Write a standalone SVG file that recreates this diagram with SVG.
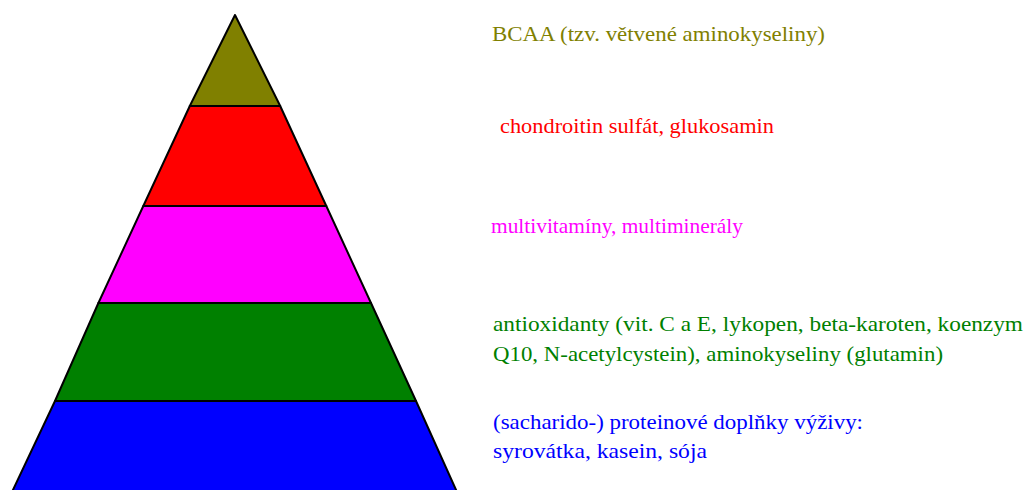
<svg xmlns="http://www.w3.org/2000/svg" width="1027" height="490" viewBox="0 0 1027 490">
<style>
.b{stroke:#000;stroke-width:2;stroke-linejoin:round}
text{font-family:"Liberation Serif","Times New Roman",serif;font-size:21px}
</style>
<rect width="1027" height="490" fill="#fff"/>
<g id="pyramid">
<g id="l5"><polygon class="b" fill="#808000" points="235,15 189.8,106 280.2,106"/></g>
<g id="l4"><polygon class="b" fill="#ff0000" points="189.8,106 280.2,106 326.3,206 143.3,206"/></g>
<g id="l3"><polygon class="b" fill="#ff00ff" points="143.3,206 326.3,206 371,303 98.4,303"/></g>
<g id="l2"><polygon class="b" fill="#008000" points="98.4,303 371,303 416,401 55,401"/></g>
<g id="l1"><polygon class="b" fill="#0000ff" points="55,401 416,401 457,492 12,492"/></g>
</g>
<g id="labels">
<text x="492" y="41" fill="#808000" textLength="333" lengthAdjust="spacingAndGlyphs">BCAA (tzv. větvené aminokyseliny)</text>
<text x="500" y="133" fill="#ff0000" textLength="274" lengthAdjust="spacingAndGlyphs">chondroitin sulfát, glukosamin</text>
<text x="491" y="233" fill="#ff00ff" textLength="252" lengthAdjust="spacingAndGlyphs">multivitamíny, multiminerály</text>
<text x="493" y="331" fill="#008000" textLength="530" lengthAdjust="spacingAndGlyphs">antioxidanty (vit. C a E, lykopen, beta-karoten, koenzym</text>
<text x="493" y="361" fill="#008000" textLength="450" lengthAdjust="spacingAndGlyphs">Q10, N-acetylcystein), aminokyseliny (glutamin)</text>
<text x="493" y="429" fill="#0000ff" textLength="370" lengthAdjust="spacingAndGlyphs">(sacharido-) proteinové doplňky výživy:</text>
<text x="493" y="458" fill="#0000ff" textLength="214" lengthAdjust="spacingAndGlyphs">syrovátka, kasein, sója</text>
</g>
</svg>
